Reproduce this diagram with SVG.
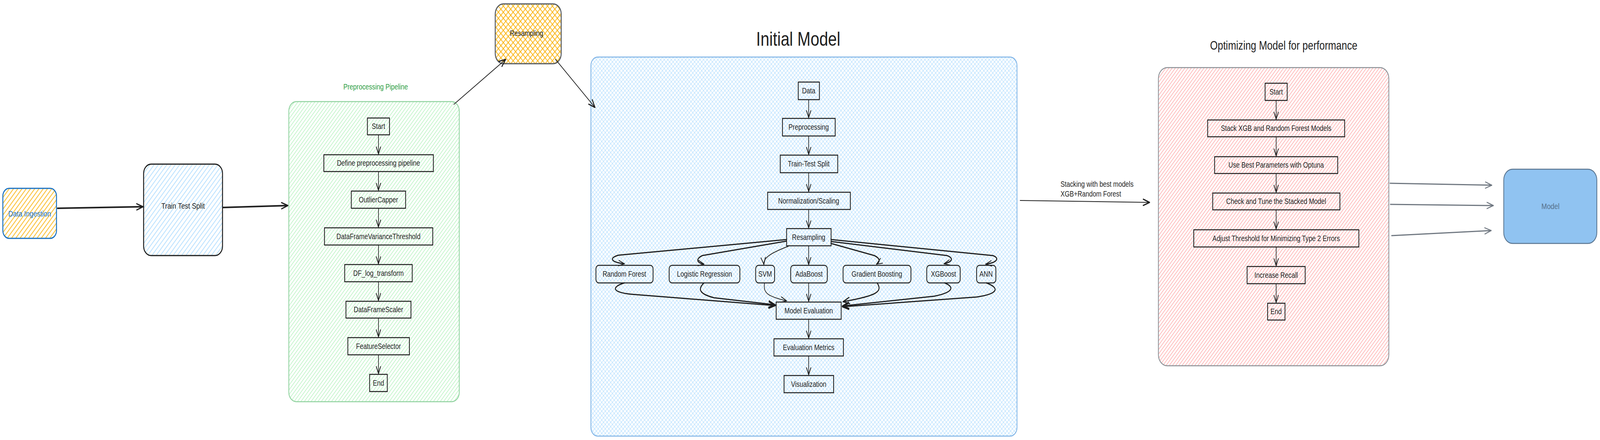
<svg xmlns="http://www.w3.org/2000/svg" width="5069" height="1126" viewBox="0 0 5069 1126" preserveAspectRatio="none" style="width:100vw;height:100vh;display:block">
<defs>
<style>
.t{font-family:"Liberation Sans",Arial,sans-serif;fill:#1e1e1e;text-anchor:middle;dominant-baseline:central;font-size:20px}
.n{fill:none;stroke:#1e1e1e;stroke-width:2.5}
.c{fill:none;stroke:#1e1e1e;stroke-width:2;stroke-linecap:round}
.ct{fill:none;stroke:#1e1e1e;stroke-width:3;stroke-linecap:round;stroke-linejoin:round}
.cg{fill:none;stroke:#6f7780;stroke-width:3;stroke-linecap:round}
</style>
<pattern id="hGreen" width="8" height="8" patternUnits="userSpaceOnUse" patternTransform="rotate(42)"><line x1="4" y1="0" x2="4" y2="8" stroke="#b2f2bb" stroke-width="1.6"/></pattern>
<pattern id="hRed" width="7.5" height="8" patternUnits="userSpaceOnUse" patternTransform="rotate(42)"><line x1="3.75" y1="0" x2="3.75" y2="8" stroke="#ff8f8f" stroke-width="1.3"/></pattern>
<pattern id="hOrange" width="10" height="10" patternUnits="userSpaceOnUse" patternTransform="rotate(42)"><line x1="5" y1="0" x2="5" y2="10" stroke="#fab005" stroke-width="2"/></pattern>
<pattern id="hBlue" width="10" height="10" patternUnits="userSpaceOnUse" patternTransform="rotate(42)"><line x1="5" y1="0" x2="5" y2="10" stroke="#a5d8ff" stroke-width="1.8"/></pattern>
<pattern id="xBlue" width="8" height="8" patternUnits="userSpaceOnUse" patternTransform="rotate(45)"><path d="M4,0 V8 M0,4 H8" stroke="#a5d8ff" stroke-width="1.1" fill="none"/></pattern>
<pattern id="xOrange" width="11" height="11" patternUnits="userSpaceOnUse" patternTransform="rotate(45)"><path d="M5.5,0 V11 M0,5.5 H11" stroke="#fab005" stroke-width="2" fill="none"/></pattern>
<marker id="ah" viewBox="-22 -12 26 24" refX="0" refY="0" markerWidth="26" markerHeight="24" markerUnits="userSpaceOnUse" orient="auto"><path d="M-20,-8 L0,0 L-20,8" fill="none" stroke="#1e1e1e" stroke-width="3" stroke-linecap="round" stroke-linejoin="round"/></marker>
<marker id="ahS" viewBox="-22 -12 26 24" refX="0" refY="0" markerWidth="26" markerHeight="24" markerUnits="userSpaceOnUse" orient="auto"><path d="M-18,-7 L0,0 L-18,7" fill="none" stroke="#1e1e1e" stroke-width="2.2" stroke-linecap="round" stroke-linejoin="round"/></marker>
<marker id="ahG" viewBox="-22 -12 26 24" refX="0" refY="0" markerWidth="26" markerHeight="24" markerUnits="userSpaceOnUse" orient="auto"><path d="M-20,-8 L0,0 L-20,8" fill="none" stroke="#6f7780" stroke-width="2.5" stroke-linecap="round" stroke-linejoin="round"/></marker>
</defs>

<!-- containers -->
<g id="preprocessing-pipeline">
<rect x="915" y="260" width="540" height="768" rx="24" fill="url(#hGreen)" stroke="#8fd19e" stroke-width="2.5"/>
<text class="t" x="1190" y="222" style="fill:#2f9e44;font-size:20px">Preprocessing Pipeline</text>
</g>
<g id="initial-model">
<rect x="1872" y="146" width="1350" height="970" rx="22" fill="url(#xBlue)" stroke="#7eb3e6" stroke-width="2.5"/>
<text class="t" x="2529" y="100" style="font-size:50px">Initial Model</text>
</g>
<g id="optimizing-model">
<rect x="3670" y="173" width="730" height="763" rx="28" fill="url(#hRed)" stroke="#8a8f95" stroke-width="2.5"/>
<text class="t" x="4067" y="116" style="font-size:31px">Optimizing Model for performance</text>
</g>

<!-- top level nodes -->
<g id="data-ingestion">
<rect x="9" y="482" width="170" height="128" rx="20" fill="url(#hOrange)" stroke="#1971c2" stroke-width="3"/>
<text class="t" x="94" y="547" style="fill:#1971c2;font-size:21px">Data Ingestion</text>
</g>
<g id="train-test-split">
<rect x="455" y="420" width="250" height="234" rx="24" fill="url(#hBlue)" stroke="#1e1e1e" stroke-width="3"/>
<text class="t" x="580" y="527" style="font-size:21px">Train Test Split</text>
</g>
<g id="resampling-top">
<rect x="1569" y="10" width="209" height="153" rx="26" fill="url(#xOrange)" stroke="#555a60" stroke-width="3"/>
<text class="t" x="1668" y="85">Resampling</text>
</g>
<g id="model">
<rect x="4764" y="433" width="295" height="190" rx="28" fill="#90c3f1" stroke="#5a7590" stroke-width="2.5"/>
<text class="t" x="4912" y="528" style="fill:#56708a;font-size:21px">Model</text>
</g>

<!-- preprocessing pipeline nodes -->
<g id="pp-start"><rect class="n" x="1164" y="302" width="70" height="43"/><text class="t" x="1199" y="323">Start</text></g>
<g id="pp-define"><rect class="n" x="1026" y="396" width="347" height="43"/><text class="t" x="1199" y="417">Define preprocessing pipeline</text></g>
<g id="pp-outlier"><rect class="n" x="1113" y="489" width="172" height="44"/><text class="t" x="1199" y="511">OutlierCapper</text></g>
<g id="pp-variance"><rect class="n" x="1028" y="583" width="343" height="44"/><text class="t" x="1199" y="605">DataFrameVarianceThreshold</text></g>
<g id="pp-log"><rect class="n" x="1092" y="677" width="214" height="44"/><text class="t" x="1199" y="699">DF_log_transform</text></g>
<g id="pp-scaler"><rect class="n" x="1096" y="771" width="206" height="43"/><text class="t" x="1199" y="792">DataFrameScaler</text></g>
<g id="pp-selector"><rect class="n" x="1102" y="864" width="195" height="44"/><text class="t" x="1199" y="886">FeatureSelector</text></g>
<g id="pp-end"><rect class="n" x="1171" y="958" width="56" height="44"/><text class="t" x="1199" y="980">End</text></g>

<!-- initial model nodes -->
<g id="im-data"><rect class="n" x="2529" y="210" width="67" height="45"/><text class="t" x="2562" y="232">Data</text></g>
<g id="im-preprocessing"><rect class="n" x="2479" y="303" width="167" height="45"/><text class="t" x="2562" y="325">Preprocessing</text></g>
<g id="im-split"><rect class="n" x="2472" y="397" width="182" height="45"/><text class="t" x="2562" y="419">Train-Test Split</text></g>
<g id="im-norm"><rect class="n" x="2432" y="492" width="262" height="44"/><text class="t" x="2562" y="514">Normalization/Scaling</text></g>
<g id="im-resampling"><rect class="n" x="2492" y="585" width="141" height="44"/><text class="t" x="2562" y="607">Resampling</text></g>
<g id="im-rf"><rect class="n" x="1888" y="679" width="181" height="45" rx="9"/><text class="t" x="1978" y="701">Random Forest</text></g>
<g id="im-lr"><rect class="n" x="2120" y="679" width="224" height="45" rx="9"/><text class="t" x="2232" y="701">Logistic Regression</text></g>
<g id="im-svm"><rect class="n" x="2394" y="679" width="60" height="45" rx="9"/><text class="t" x="2424" y="701">SVM</text></g>
<g id="im-ada"><rect class="n" x="2505" y="679" width="116" height="45" rx="9"/><text class="t" x="2563" y="701">AdaBoost</text></g>
<g id="im-gb"><rect class="n" x="2671" y="679" width="215" height="45" rx="9"/><text class="t" x="2778" y="701">Gradient Boosting</text></g>
<g id="im-xgb"><rect class="n" x="2936" y="679" width="106" height="45" rx="9"/><text class="t" x="2989" y="701">XGBoost</text></g>
<g id="im-ann"><rect class="n" x="3094" y="679" width="61" height="45" rx="9"/><text class="t" x="3124" y="701">ANN</text></g>
<g id="im-eval"><rect class="n" x="2459" y="773" width="206" height="44"/><text class="t" x="2562" y="795">Model Evaluation</text></g>
<g id="im-metrics"><rect class="n" x="2452" y="867" width="220" height="44"/><text class="t" x="2562" y="889">Evaluation Metrics</text></g>
<g id="im-vis"><rect class="n" x="2484" y="961" width="157" height="44"/><text class="t" x="2562" y="983">Visualization</text></g>

<!-- optimizing nodes -->
<g id="op-start"><rect class="n" x="4008" y="213" width="70" height="44"/><text class="t" x="4043" y="235">Start</text></g>
<g id="op-stack"><rect class="n" x="3826" y="307" width="434" height="43"/><text class="t" x="4043" y="328">Stack XGB and Random Forest Models</text></g>
<g id="op-optuna"><rect class="n" x="3848" y="401" width="390" height="43"/><text class="t" x="4043" y="422">Use Best Parameters with Optuna</text></g>
<g id="op-tune"><rect class="n" x="3842" y="494" width="403" height="43"/><text class="t" x="4043" y="515">Check and Tune the Stacked Model</text></g>
<g id="op-threshold"><rect class="n" x="3782" y="588" width="523" height="44"/><text class="t" x="4043" y="610">Adjust Threshold for Minimizing Type 2 Errors</text></g>
<g id="op-recall"><rect class="n" x="3951" y="682" width="184" height="44"/><text class="t" x="4043" y="704">Increase Recall</text></g>
<g id="op-end"><rect class="n" x="4016" y="776" width="55" height="43"/><text class="t" x="4043" y="797">End</text></g>

<!-- connectors -->
<g id="connectors">
<path d="M181,533 L453,529" fill="none" stroke="#1e1e1e" stroke-width="4" marker-end="url(#ah)"/>
<path d="M705,531 L912,526" fill="none" stroke="#1e1e1e" stroke-width="4" marker-end="url(#ah)"/>
<path d="M1438,267 L1602,152" class="c" stroke-width="2.5" marker-end="url(#ah)"/>
<path d="M1760,152 L1885,275" class="c" stroke-width="3.5" marker-end="url(#ah)"/>
<path d="M3232,513 L3642,518" class="c" stroke-width="3.5" marker-end="url(#ah)"/>
<text x="3360" y="478" style="font-family:'Liberation Sans',Arial,sans-serif;font-size:20px;fill:#1e1e1e">Stacking with best models</text>
<text x="3360" y="503" style="font-family:'Liberation Sans',Arial,sans-serif;font-size:20px;fill:#1e1e1e">XGB+Random Forest</text>
<path d="M4404,469 L4726,474" class="cg" marker-end="url(#ahG)"/>
<path d="M4405,523 L4731,526" class="cg" marker-end="url(#ahG)"/>
<path d="M4409,603 L4724,590" class="cg" marker-end="url(#ahG)"/>

<!-- preprocessing pipeline -->
<path d="M1199,345 V394" class="c" marker-end="url(#ahS)"/>
<path d="M1199,439 V487" class="c" marker-end="url(#ahS)"/>
<path d="M1199,533 V581" class="c" marker-end="url(#ahS)"/>
<path d="M1199,627 V675" class="c" marker-end="url(#ahS)"/>
<path d="M1199,721 V769" class="c" marker-end="url(#ahS)"/>
<path d="M1199,814 V862" class="c" marker-end="url(#ahS)"/>
<path d="M1199,908 V956" class="c" marker-end="url(#ahS)"/>

<!-- initial model -->
<path d="M2562,255 V301" class="c" marker-end="url(#ahS)"/>
<path d="M2562,348 V395" class="c" marker-end="url(#ahS)"/>
<path d="M2562,442 V490" class="c" marker-end="url(#ahS)"/>
<path d="M2562,536 V583" class="c" marker-end="url(#ahS)"/>
<path d="M2562,629 V677" class="c" marker-end="url(#ahS)"/>
<path d="M2562,817 V865" class="c" marker-end="url(#ahS)"/>
<path d="M2562,911 V959" class="c" marker-end="url(#ahS)"/>
<path d="M2562,724 V771" class="c" marker-end="url(#ahS)"/>
<path d="M2492,613 L1960,653 C1928,660 1935,671 1978,675" class="ct" marker-end="url(#ahS)"/>
<path d="M2492,617 L2225,654 C2205,662 2205,672 2230,676" class="ct" marker-end="url(#ahS)"/>
<path d="M2498,630 C2440,648 2418,660 2420,677" class="c" stroke-width="2.5" marker-end="url(#ahS)"/>
<path d="M2633,623 L2770,654 C2790,662 2788,670 2777,676" class="ct" marker-end="url(#ahS)"/>
<path d="M2633,618 L3000,654 C3022,660 3018,670 2991,675" class="ct" marker-end="url(#ahS)"/>
<path d="M2633,613 L3145,654 C3168,660 3160,672 3123,676" class="ct" marker-end="url(#ahS)"/>
<path d="M1978,724 C1935,735 1940,748 2000,753 L2456,782" class="ct" marker-end="url(#ah)"/>
<path d="M2230,724 C2210,740 2215,752 2262,762 L2456,780" class="ct" marker-end="url(#ah)"/>
<path d="M2422,724 C2418,750 2430,758 2492,770" class="c" stroke-width="2.5" marker-end="url(#ahS)"/>
<path d="M2779,724 C2795,745 2785,756 2671,772" class="ct" marker-end="url(#ah)"/>
<path d="M2993,724 C3025,735 3020,748 2960,758 L2669,783" class="ct" marker-end="url(#ah)"/>
<path d="M3125,724 C3170,738 3160,752 3095,760 L2669,785" class="ct" marker-end="url(#ah)"/>

<!-- optimizing -->
<path d="M4043,257 V305" class="c" marker-end="url(#ahS)"/>
<path d="M4043,350 V399" class="c" marker-end="url(#ahS)"/>
<path d="M4043,444 V492" class="c" marker-end="url(#ahS)"/>
<path d="M4043,537 V586" class="c" marker-end="url(#ahS)"/>
<path d="M4043,632 V680" class="c" marker-end="url(#ahS)"/>
<path d="M4043,726 V774" class="c" marker-end="url(#ahS)"/>
</g>
</svg>
